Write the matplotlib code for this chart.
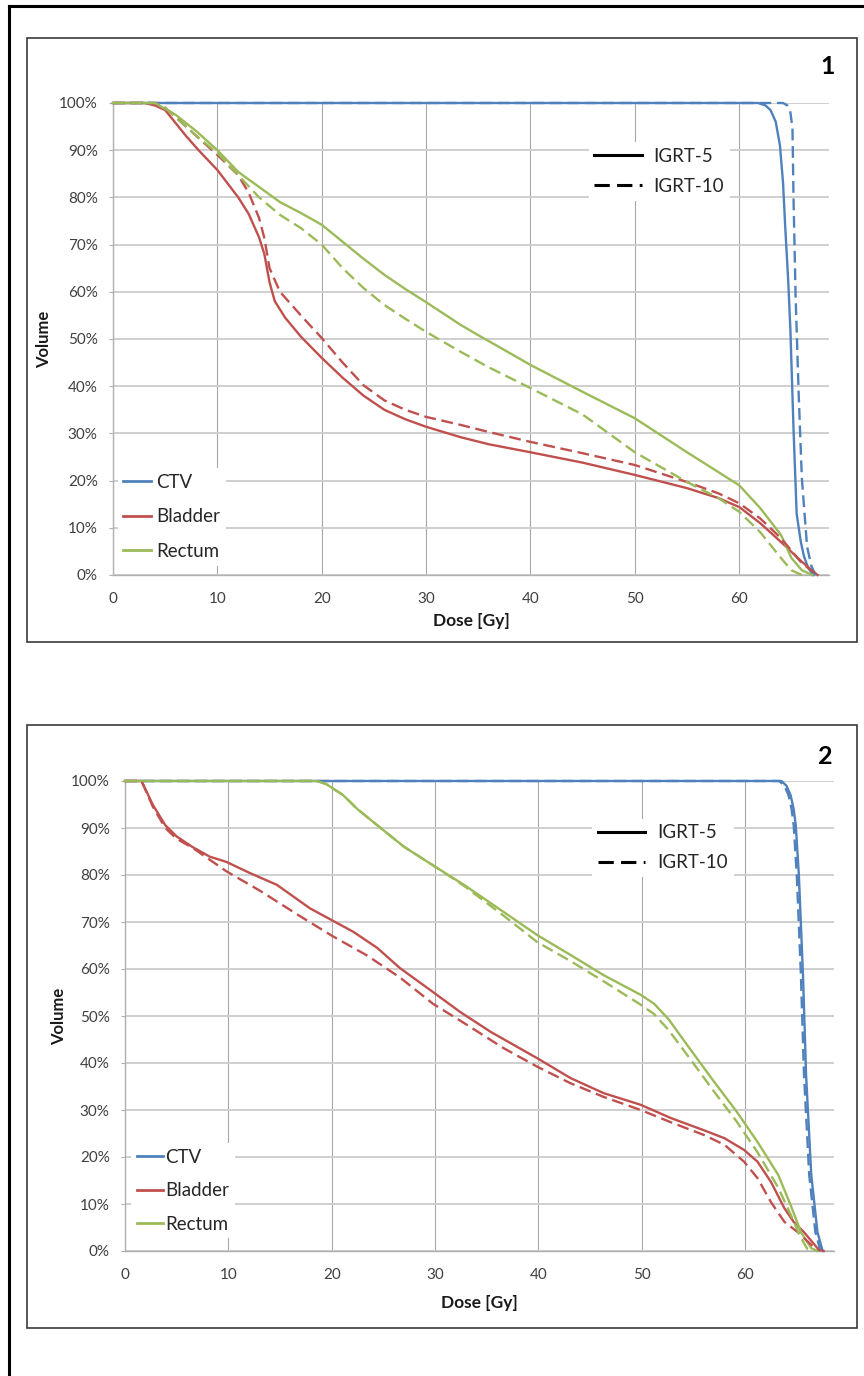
import matplotlib
matplotlib.use('Agg')
import matplotlib.pyplot as plt
from matplotlib.lines import Line2D
from matplotlib.patches import Rectangle
from matplotlib.ticker import PercentFormatter, MultipleLocator

plt.rcParams['font.family'] = ['Lato', 'DejaVu Sans']

# ---- panel 1: dose [Gy] / volume [%] ----
p1_ctv5_dose = [0, 61.8, 62.5, 63.0, 63.5, 63.9, 64.2, 64.4, 64.7, 64.9, 65.2, 65.5, 65.9, 66.2, 66.6, 67.1]
p1_ctv5_vol = [100, 100, 99.5, 98.5, 96, 91, 83, 74, 62, 52, 31, 13, 7, 4, 1.5, 0]
p1_ctv10_dose = [0, 64.2, 64.6, 64.9, 65.1, 65.2, 65.4, 65.7, 66.0, 66.5, 66.9, 67.3]
p1_ctv10_vol = [100, 100, 99.5, 98, 94.7, 80, 59, 38, 20.5, 6, 2, 0]

p1_bla5_dose = [0, 3, 4, 5, 7, 8.2, 10, 12, 13, 14, 14.5, 15, 15.5, 16.5, 18, 20, 22, 24, 26, 28, 30,
                33.3, 36, 40, 45, 50, 55, 58, 60, 62, 64, 66, 67.5]
p1_bla5_vol = [100, 100, 99.5, 98.5, 93, 90, 85.8, 80, 76.5, 71.5, 68, 62, 58, 54.5, 50.5, 46, 41.8, 38, 35, 33, 31.4,
               29.2, 27.7, 26, 23.8, 21.2, 18.4, 16.3, 14.4, 11, 7, 2.8, 0]
p1_bla10_dose = [0, 4, 5, 6, 8, 10, 12, 13, 14, 14.5, 15, 16, 18, 20, 22, 24, 26, 28, 30,
                 33.3, 36, 40, 45, 50, 55, 58, 60, 62, 64, 66, 67.5]
p1_bla10_vol = [100, 100, 99, 97, 93, 89, 84.7, 81, 75.6, 71.4, 65, 60, 55, 50.2, 45, 40.2, 37, 35, 33.5,
                31.8, 30.3, 28.2, 25.8, 23.3, 19.7, 17.3, 15.2, 12, 7.8, 2.5, 0]

p1_rec5_dose = [0, 4, 6, 8, 10, 12, 14, 16, 18, 20, 22, 24, 26, 28, 30, 33.3, 35, 37, 40, 45, 50,
                55, 58, 60, 62, 64, 65, 66, 67]
p1_rec5_vol = [100, 100, 97.5, 94, 90, 85.4, 82.2, 79, 76.7, 74.2, 70.6, 67, 63.6, 60.6, 57.8, 53, 50.8, 48.3, 44.5, 38.8, 33.2,
               26, 21.8, 19, 14.2, 8.5, 3.6, 1, 0]
p1_rec10_dose = [0, 4, 5, 6, 8, 10, 12, 14, 16, 18, 20, 22, 24, 26, 28, 30, 33.3, 36, 40, 45, 50, 55, 58, 60, 62, 64, 65, 66]
p1_rec10_vol = [100, 100, 99, 97, 93, 89.4, 84.7, 80, 76.3, 73.5, 70, 65, 60.8, 57.2, 54.3, 51.5, 47.3, 44, 39.6, 34, 26,
                19.7, 16.3, 13.4, 9.1, 3.6, 1, 0]

# ---- panel 2 ----
p2_ctv5_dose = [0, 63.5, 64.0, 64.4, 64.7, 64.9, 65.2, 65.6, 65.9, 66.4, 67.0, 67.5]
p2_ctv5_vol = [100, 100, 99, 97, 94, 90.6, 80, 58.7, 37.4, 16.2, 4, 0]
p2_ctv10_dose = [0, 63.3, 63.8, 64.2, 64.5, 64.7, 65.0, 65.4, 65.7, 66.2, 66.8, 67.3]
p2_ctv10_vol = [100, 100, 99, 97, 94, 90.6, 80, 58.7, 37.4, 16.2, 4, 0]

p2_bla5_dose = [0, 1.6, 2.7, 3.9, 5, 6.5, 8.2, 9.8, 12.1, 14.7, 17.9, 20, 22.1, 24.4, 26.6, 29.8, 32.4, 35.4,
                39.9, 43.1, 46.3, 49.9, 52.8, 56, 58, 59.9, 61.2, 62.5, 63.8, 64.7, 65.7, 67, 67.6]
p2_bla5_vol = [100, 100, 94.9, 90.6, 88.2, 86, 83.9, 82.8, 80.4, 77.9, 72.9, 70.4, 67.9, 64.5, 60.2, 55.1, 50.9, 46.6,
               41, 36.8, 33.6, 31.1, 28.3, 25.7, 24, 21.5, 19, 14.7, 9.1, 6.2, 4, 0.6, 0]
p2_bla10_dose = [0, 1.6, 2.7, 3.9, 5, 6.6, 9.8, 13.1, 16.6, 20, 23.4, 26.6, 29.8, 33.1, 36.6, 39.9, 43.1, 46.3,
                 49.9, 52.8, 56, 58, 59.9, 61.2, 62.5, 63.8, 65.1, 66.4, 67.3]
p2_bla10_vol = [100, 100, 94.5, 90, 87.7, 85.7, 80.8, 76.6, 71.7, 67.1, 62.9, 58.2, 52.6, 48.1, 43.2, 39.2, 35.7, 32.8,
                30, 27.4, 24.7, 22.6, 19, 15.5, 10.4, 6.2, 4, 1.3, 0]

p2_rec5_dose = [0, 18.6, 19.5, 21.1, 22.5, 24.4, 27, 30.2, 32.8, 35.4, 39.9, 43.1, 46.3, 49.9, 51.2, 52.6, 54.4, 57,
                59.2, 61.2, 63.2, 64.4, 65.4, 66.4, 67]
p2_rec5_vol = [100, 100, 99.3, 97, 94, 90.6, 86, 81.5, 77.9, 74, 67.2, 63, 58.7, 54.5, 52.6, 49.3, 43.8, 36,
               29.6, 23.2, 16.2, 9.8, 4, 0.6, 0]
p2_rec10_dose = [0, 18.6, 19.5, 21.1, 22.5, 24.4, 27, 30.2, 32.8, 36.6, 39.9, 43.1, 46.3, 49.9, 51.2, 52.6, 54.4, 57,
                 59.2, 61.2, 63.2, 64.4, 65.4, 66, 66.6]
p2_rec10_vol = [100, 100, 99.3, 97, 94, 90.6, 86, 81.5, 77.7, 71.4, 65.7, 61.7, 57.4, 52.4, 50.4, 47, 41.7, 33.9,
                27.5, 21, 13.5, 7.8, 2.8, 0.5, 0]

organs = ['CTV', 'Bladder', 'Rectum']
colors = ['#4F81BD', '#C0504D', '#9BBB59']
plans = ['IGRT-5', 'IGRT-10']

W, H = 864, 1376
fig = plt.figure(figsize=(W / 100, H / 100), dpi=100)


def px_rect(x0, y0, x1, y1, lw, color):
    fig.add_artist(Rectangle((x0 / W, 1 - y1 / H), (x1 - x0) / W, (y1 - y0) / H,
                             transform=fig.transFigure, fill=False, lw=lw, ec=color))


# outer frame (left + top) and panel frames
fig.add_artist(Line2D([9 / W, 9 / W], [0, 1 - 6 / H], transform=fig.transFigure, lw=2.2, color='black'))
fig.add_artist(Line2D([9 / W, 1], [1 - 6 / H, 1 - 6 / H], transform=fig.transFigure, lw=2.2, color='black'))
px_rect(27, 38, 857, 642, 1.2, '#3a3a3a')
px_rect(27, 725, 857, 1328, 1.2, '#3a3a3a')

panels = [
    dict(box=(113, 103, 829, 575), num='1', num_xy=(828, 67),
         curves=[(p1_ctv5_dose, p1_ctv5_vol, p1_ctv10_dose, p1_ctv10_vol),
                 (p1_bla5_dose, p1_bla5_vol, p1_bla10_dose, p1_bla10_vol),
                 (p1_rec5_dose, p1_rec5_vol, p1_rec10_dose, p1_rec10_vol)],
         leg_org=(0.082, 0.123, 1.45, 0.3, 0.93), leg_plan=(0.763, 0.855),
         ylab_x=52, xlab_y=613),
    dict(box=(125, 781, 834, 1251), num='2', num_xy=(825, 756),
         curves=[(p2_ctv5_dose, p2_ctv5_vol, p2_ctv10_dose, p2_ctv10_vol),
                 (p2_bla5_dose, p2_bla5_vol, p2_bla10_dose, p2_bla10_vol),
                 (p2_rec5_dose, p2_rec5_vol, p2_rec10_dose, p2_rec10_vol)],
         leg_org=(0.082, 0.128, 1.4, 0.12, 0.88), leg_plan=(0.759, 0.858),
         ylab_x=67, xlab_y=1295),
]

dash = (5, 2.4)
for p in panels:
    x0, y0, x1, y1 = p['box']
    ax = fig.add_axes([x0 / W, 1 - y1 / H, (x1 - x0) / W, (y1 - y0) / H])

    # solid first, then dashed
    for (d5, v5, d10, v10), c in zip(p['curves'], colors):
        ax.plot(d5, v5, color=c, lw=1.7, clip_on=False, zorder=3)
    for (d5, v5, d10, v10), c in zip(p['curves'], colors):
        ax.plot(d10, v10, color=c, lw=1.7, dashes=dash, clip_on=False, zorder=3)

    ax.set_xlim(0, 68.6)
    ax.set_ylim(0, 100)
    ax.yaxis.set_major_locator(MultipleLocator(10))
    ax.yaxis.set_major_formatter(PercentFormatter(xmax=100, decimals=0))
    ax.set_xticks(range(0, 61, 10))
    ax.grid(axis='y', color='#cfcfcf', lw=1.4, zorder=0)
    ax.grid(axis='x', color='#a8a8a8', lw=0.8, zorder=0)
    ax.set_axisbelow(True)
    for s in ['top', 'right']:
        ax.spines[s].set_visible(False)
    for s in ['left', 'bottom']:
        ax.spines[s].set_color('#b0b0b0')
        ax.spines[s].set_linewidth(1.0)
    ax.tick_params(axis='y', length=3, width=0.8, color='#b0b0b0', pad=8, labelsize=11, labelcolor='#404040')
    ax.tick_params(axis='x', length=0, pad=12, labelsize=11, labelcolor='#404040')

    # axis labels
    ax.set_ylabel('Volume', fontsize=12, fontweight='bold', color='#1a1a1a')
    ax.yaxis.set_label_coords((p['ylab_x'] - x0) / (x1 - x0), 0.5)
    ax.set_xlabel('Dose [Gy]', fontsize=12.5, fontweight='bold', color='#1a1a1a')
    ax.xaxis.set_label_coords(0.5, (y1 - p['xlab_y']) / (y1 - y0))

    fig.text(p['num_xy'][0] / W, 1 - p['num_xy'][1] / H, p['num'], fontsize=18, fontweight='bold',
             ha='center', va='center', color='black')

    # legends
    fx, fy, hl, htp, ls = p['leg_org']
    org_handles = [Line2D([], [], color=c, lw=2.0) for c in colors]
    leg1 = ax.legend(org_handles, organs, loc='center', bbox_to_anchor=(fx, fy), fontsize=13.5,
                     handlelength=hl, handletextpad=htp, labelspacing=ls, frameon=True, facecolor='white',
                     edgecolor='none', framealpha=1, fancybox=False, borderpad=0.3, labelcolor='#262626')
    leg1.set_zorder(5)
    ax.add_artist(leg1)
    plan_handles = [Line2D([], [], color='black', lw=2.2),
                    Line2D([], [], color='black', lw=2.2, dashes=dash)]
    leg2 = ax.legend(plan_handles, plans, loc='center', bbox_to_anchor=p['leg_plan'], fontsize=13.5,
                     handlelength=2.52, handletextpad=0.65, labelspacing=0.7, frameon=True, facecolor='white',
                     edgecolor='none', framealpha=1, fancybox=False, borderpad=0.3, labelcolor='#262626')
    leg2.set_zorder(5)

fig.savefig('out.png', dpi=100)
